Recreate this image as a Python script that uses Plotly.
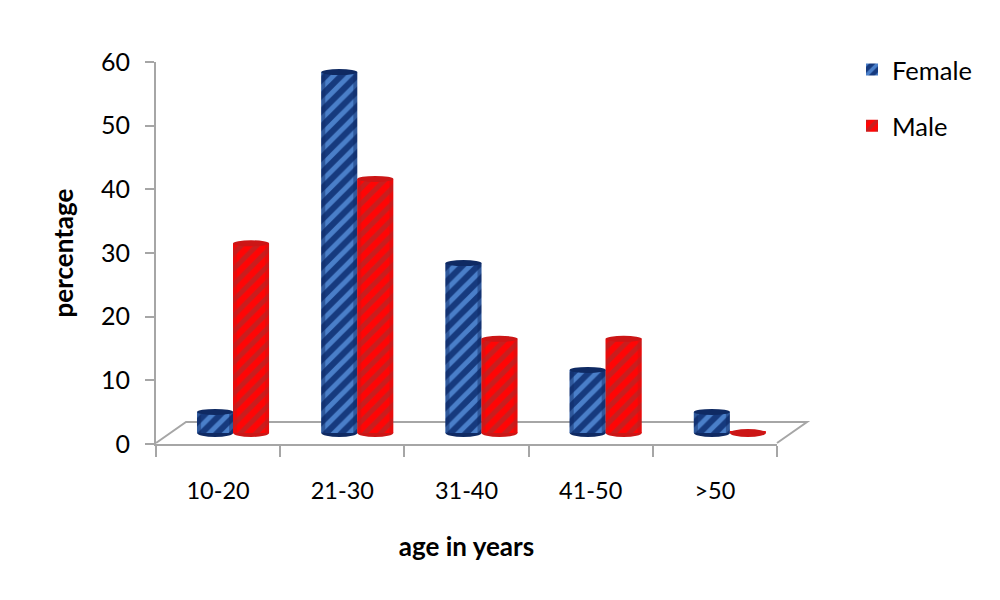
import plotly.graph_objects as go

categories = ["10-20", "21-30", "31-40", "41-50", ">50"]
female = [3.3, 56.7, 26.7, 9.9, 3.3]
male = [29.8, 39.9, 14.8, 14.8, 0.3]
y_ticks = [0, 10, 20, 30, 40, 50, 60]

W, H = 1000, 600
PAGE_MARGIN = 8  # the browser's default body margin
FONT = "Lato, Carlito, Calibri, sans-serif"
GREY = "#a6a6a6"
BAR_W = 0.29
SHIFT = 0.12
BAR_PX = 36


def px(x):
    return (x - PAGE_MARGIN) / W


def py(y):
    return 1 - (y - PAGE_MARGIN) / H


fig = go.Figure()
series = [
    ("Female", female, -BAR_W + SHIFT, "#163a7e", "#4a7fc9", "#0f2a63", -BAR_PX + 15),
    ("Male", male, SHIFT, "#ff0505", "#c81e1e", "#cc1616", 15),
]
# carries the visible y axis (no drawn marks)
fig.add_trace(go.Scatter(x=categories, y=[None] * len(categories), yaxis="y",
                         showlegend=False, hoverinfo="skip", mode="lines"))
for name, vals, offs, bg, fg, dark, left in series:
    fig.add_trace(go.Bar(
        name=name, x=categories, y=vals, yaxis="y2", legendgroup=name,
        width=BAR_W, offset=offs,
        marker=dict(color=bg, line=dict(width=0),
                    pattern=dict(shape="/", bgcolor=bg, fgcolor=fg, size=11, solidity=0.45,
                                 fillmode="replace")),
    ))

shapes = [dict(type="path", xref="paper", yref="paper", layer="below",
               path=f"M{px(156)},{py(443)} L{px(186)},{py(422)} L{px(807)},{py(422)} L{px(777)},{py(443)}",
               line=dict(color=GREY, width=2))]
for name, vals, offs, bg, fg, dark, left in series:
    for cat, v in zip(categories, vals):
        # bottom cap (behind the bar) and top cap of each cylinder
        common = dict(xref="x", yref="y2", xsizemode="pixel", ysizemode="pixel",
                      xanchor=cat, type="circle", line=dict(width=0))
        shapes.append(dict(common, yanchor=0, x0=left, x1=left + BAR_PX, y0=-4, y1=4,
                           fillcolor=dark, layer="above" if v < 1 else "below"))
        if v < 1:
            continue
        shapes.append(dict(common, yanchor=v, x0=left, x1=left + BAR_PX, y0=-3, y1=3,
                           fillcolor=dark, layer="above"))
        # darker edges for the round look
        for a, b in ((left, left + 4), (left + BAR_PX - 4, left + BAR_PX)):
            shapes.append(dict(type="rect", xref="x", yref="y2", xsizemode="pixel", xanchor=cat,
                               x0=a, x1=b, y0=0, y1=v, fillcolor=dark, opacity=0.45,
                               line=dict(width=0), layer="above"))

fig.update_layout(
    width=W, height=H, margin=dict(l=0, r=0, t=0, b=0, autoexpand=False),
    paper_bgcolor="white", plot_bgcolor="rgba(0,0,0,0)",
    font=dict(family=FONT, color="black", size=23),
    barmode="overlay", shapes=shapes,
    xaxis=dict(domain=[px(156), px(777)], anchor="y", type="category", automargin=False,
               categoryorder="array", categoryarray=categories,
               range=[-0.5, 4.5], tickson="boundaries", ticks="outside", ticklen=11, tickwidth=2,
               tickcolor=GREY, linecolor=GREY, linewidth=2, showgrid=False, zeroline=False,
               ticklabelstandoff=25, tickfont=dict(size=23.5),
               title=dict(text="<b>age in years</b>", font=dict(size=26), standoff=35)),
    yaxis=dict(domain=[py(444), py(62)], anchor="x", range=[0, 60], tickvals=y_ticks, automargin=False,
               ticks="outside", ticklen=9, tickwidth=2, tickcolor=GREY, linecolor=GREY, linewidth=2,
               showgrid=False, zeroline=False, ticklabelstandoff=10, tickfont=dict(size=25),
               title=dict(text="<b>percentage</b>", font=dict(size=26), standoff=20)),
    yaxis2=dict(domain=[py(439.37), py(51)], anchor="x", range=[-1, 60], visible=False),
    legend=dict(x=px(852), y=py(46.5), xanchor="left", yanchor="top", traceorder="grouped",
                tracegroupgap=20, font=dict(size=25.5), itemclick=False),
    showlegend=True,
)
fig.write_html("out.html")
